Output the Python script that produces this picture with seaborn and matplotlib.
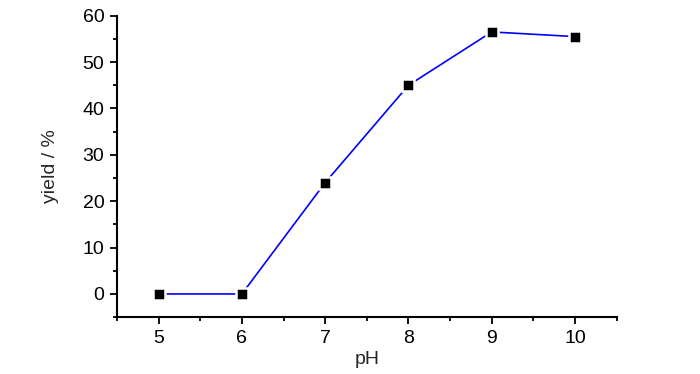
import matplotlib
matplotlib.use("Agg")
import matplotlib.pyplot as plt
import seaborn as sns
import pandas as pd
from matplotlib.ticker import MultipleLocator

ph = [5, 6, 7, 8, 9, 10]
yield_pct = [0, 0, 24, 45, 56.5, 55.5]

sns.set_theme(style="ticks")
plt.rcParams['font.family'] = ['Liberation Sans', 'DejaVu Sans']

df = pd.DataFrame({"pH": ph, "yield": yield_pct})

fig = plt.figure(figsize=(7, 3.74), dpi=100)
ax = fig.add_axes([0.167, 0.152, 0.714, 0.806])

sns.lineplot(data=df, x="pH", y="yield", ax=ax, color="#0000ff", linewidth=1.2,
             marker="s", markersize=8.3, markerfacecolor="black",
             markeredgecolor="white", markeredgewidth=1.8)

ax.set_xlim(4.5, 10.5)
ax.set_ylim(-5, 60)
ax.xaxis.set_major_locator(MultipleLocator(1))
ax.xaxis.set_minor_locator(MultipleLocator(0.5))
ax.yaxis.set_major_locator(MultipleLocator(10))
ax.yaxis.set_minor_locator(MultipleLocator(5))

for s in ["top", "right"]:
    ax.spines[s].set_visible(False)
for s in ["left", "bottom"]:
    ax.spines[s].set_linewidth(1.5)
    ax.spines[s].set_color("black")

ax.tick_params(which="major", direction="out", length=5, width=1.3, labelsize=14,
               colors="black", pad=4)
ax.tick_params(which="minor", direction="out", length=3, width=1.3, colors="black")

ax.set_xlabel("pH", fontsize=14, labelpad=3)
ax.set_ylabel("yield / %", fontsize=14, labelpad=17)

fig.savefig("out.png", dpi=100)
